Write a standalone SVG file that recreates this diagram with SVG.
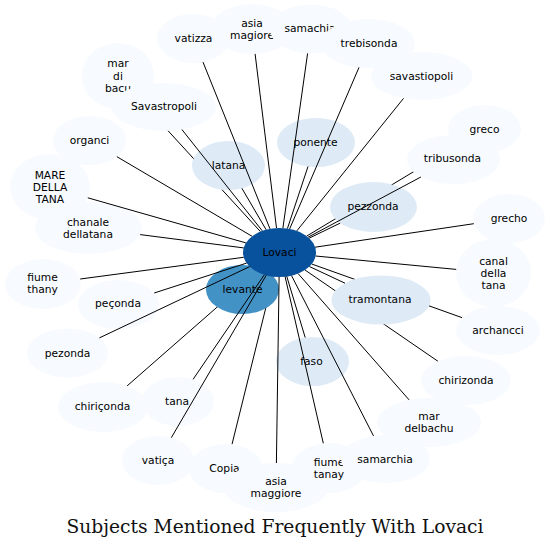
<svg xmlns="http://www.w3.org/2000/svg" width="550" height="548" viewBox="0 0 550 548">
<style>
.e line{stroke:#000;stroke-width:1;fill:none}
.n0{fill:#f7fbff}
.n1{fill:#deebf7}
.n2{fill:#4292c6}
.n3{fill:#08519c}
text{font-family:"DejaVu Sans","Noto Sans",sans-serif;font-size:10.7px;fill:#000;text-anchor:middle}
.title{font-family:"DejaVu Serif","Liberation Serif",serif;font-size:18px;fill:#111}
</style>
<rect width="550" height="548" fill="#fff"/>
<g id="connectors-under" class="e">
<line x1="260.4" y1="231.6" x2="141.1" y2="101.3"/>
<line x1="306.7" y1="236.1" x2="457.6" y2="145.2"/>
<line x1="311.7" y1="264.0" x2="462.2" y2="317.7"/>
<line x1="305.0" y1="270.0" x2="438.0" y2="361.3"/>
<line x1="273.5" y1="276.7" x2="232.0" y2="444.3"/>
<line x1="257.3" y1="271.9" x2="127.1" y2="385.9"/>
</g>
<g id="node-vatizza"><ellipse class="n0" cx="193.5" cy="38.5" rx="36.5" ry="24.5"/><text x="193.5" y="42.3">vatizza</text></g>
<g id="node-asia-magiore"><ellipse class="n0" cx="252" cy="29" rx="41" ry="25"/><text x="252" y="26.8">asia</text><text x="252" y="38.8">magiore</text></g>
<g id="node-samachia"><ellipse class="n0" cx="311" cy="29" rx="41" ry="24.5"/><text x="310" y="32.3">samachia</text></g>
<g id="node-trebisonda"><ellipse class="n0" cx="368" cy="43.5" rx="47" ry="24.5"/><text x="369" y="47.3">trebisonda</text></g>
<g id="node-savastiopoli"><ellipse class="n0" cx="421.5" cy="76" rx="50.5" ry="24"/><text x="421.5" y="79.8">savastiopoli</text></g>
<g id="node-greco"><ellipse class="n0" cx="484.5" cy="129" rx="36.5" ry="24"/><text x="484.5" y="132.8">greco</text></g>
<g id="node-tribusonda"><ellipse class="n0" cx="453.5" cy="159.5" rx="46.5" ry="24.5"/><text x="452.5" y="162.3">tribusonda</text></g>
<g id="node-grecho"><ellipse class="n0" cx="509" cy="218.5" rx="36" ry="24.5"/><text x="509" y="222.3">grecho</text></g>
<g id="node-canal-della-tana"><ellipse class="n0" cx="493.5" cy="273" rx="37.5" ry="34"/><text x="493.5" y="264.8">canal</text><text x="493.5" y="276.8">della</text><text x="493.5" y="288.8">tana</text></g>
<g id="node-archancci"><ellipse class="n0" cx="498" cy="330.5" rx="42" ry="24.5"/><text x="498" y="334.3">archancci</text></g>
<g id="node-chirizonda"><ellipse class="n0" cx="466" cy="380.5" rx="45" ry="24.5"/><text x="466" y="384.3">chirizonda</text></g>
<g id="node-mar-delbachu"><ellipse class="n0" cx="429" cy="422.5" rx="52" ry="24.5"/><text x="429" y="420">mar</text><text x="429" y="431.5">delbachu</text></g>
<g id="node-copia"><ellipse class="n0" cx="226" cy="468.5" rx="37" ry="24.5"/><text x="224.5" y="472.3">Copia</text></g>
<g id="node-asia-maggiore"><ellipse class="n0" cx="276" cy="487.5" rx="52" ry="24.5"/><text x="276" y="484.5">asia</text><text x="276" y="496.5">maggiore</text></g>
<g id="node-fiume-tanay"><ellipse class="n0" cx="329" cy="468" rx="37" ry="25"/><text x="329" y="466.3">fiume</text><text x="329" y="478.3">tanay</text></g>
<g id="node-samarchia"><ellipse class="n0" cx="385.5" cy="459" rx="44.5" ry="24"/><text x="385" y="462.8">samarchia</text></g>
<g id="node-vatica"><ellipse class="n0" cx="158" cy="460.5" rx="36" ry="24.5"/><text x="158" y="464.3">vatiça</text></g>
<g id="node-tana"><ellipse class="n0" cx="178" cy="401.5" rx="36" ry="24.5"/><text x="177" y="404.8">tana</text></g>
<g id="node-chiriconda"><ellipse class="n0" cx="103" cy="407" rx="45" ry="25"/><text x="102.5" y="410.3">chiriçonda</text></g>
<g id="node-pezonda"><ellipse class="n0" cx="67.5" cy="353" rx="40.5" ry="24.5"/><text x="67.5" y="356.5">pezonda</text></g>
<g id="node-peconda"><ellipse class="n0" cx="118.5" cy="304.5" rx="40.5" ry="24.5"/><text x="118" y="307.3">peçonda</text></g>
<g id="node-fiume-thany"><ellipse class="n0" cx="43" cy="284" rx="38" ry="25"/><text x="42.5" y="281">fiume</text><text x="42.5" y="293">thany</text></g>
<g id="node-organci"><ellipse class="n0" cx="89.5" cy="140.5" rx="36.5" ry="24.5"/><text x="89.5" y="144.3">organci</text></g>
<g id="node-mare-della-tana"><ellipse class="n0" cx="50" cy="187" rx="40" ry="33"/><text x="50" y="178.8">MARE</text><text x="50" y="190.8">DELLA</text><text x="50" y="202.8">TANA</text></g>
<g id="node-chanale-dellatana"><ellipse class="n0" cx="88.5" cy="228" rx="53.5" ry="26"/><text x="88" y="225.8">chanale</text><text x="88" y="237.8">dellatana</text></g>
<g id="node-mar-di-bacu"><ellipse class="n0" cx="118" cy="76" rx="36" ry="33"/><text x="118" y="67">mar</text><text x="118" y="79.5">di</text><text x="118" y="92">bacu</text></g>
<g id="node-savastropoli"><ellipse class="n0" cx="164" cy="107" rx="52" ry="24"/><text x="164" y="110.3">Savastropoli</text></g>
<g id="node-latana"><ellipse class="n1" cx="228.5" cy="165.5" rx="36.5" ry="24.5"/><text x="228.5" y="169.3">latana</text></g>
<g id="node-ponente"><ellipse class="n1" cx="316" cy="142.5" rx="39" ry="24.5"/><text x="315.5" y="146.3">ponente</text></g>
<g id="node-pezzonda"><ellipse class="n1" cx="373.5" cy="207" rx="43.5" ry="25"/><text x="373" y="210.3">pezzonda</text></g>
<g id="node-tramontana"><ellipse class="n1" cx="381" cy="300" rx="49.5" ry="24.5"/><text x="380" y="303.3">tramontana</text></g>
<g id="node-faso"><ellipse class="n1" cx="312.5" cy="361.5" rx="36.5" ry="24.5"/><text x="311.5" y="364.8">faso</text></g>
<g id="node-levante"><ellipse class="n2" cx="242.5" cy="289.5" rx="36.5" ry="24.5"/><text x="242.5" y="293.3">levante</text></g>
<g id="node-lovaci"><ellipse class="n3" cx="279.5" cy="252.5" rx="36.5" ry="24.5"/><text x="279.5" y="256.3">Lovaci</text></g>
<g id="connectors" class="e">
<line x1="270.0" y1="228.9" x2="203.0" y2="62.1"/>
<line x1="276.5" y1="228.1" x2="255.1" y2="53.9"/>
<line x1="282.9" y1="228.1" x2="307.6" y2="53.4"/>
<line x1="289.6" y1="229.0" x2="359.0" y2="67.4"/>
<line x1="296.8" y1="230.9" x2="403.5" y2="98.4"/>
<line x1="308.1" y1="237.2" x2="420.9" y2="177.0"/>
<line x1="309.1" y1="238.2" x2="340.2" y2="223.1"/>
<line x1="315.1" y1="247.2" x2="473.8" y2="223.7"/>
<line x1="315.6" y1="256.0" x2="456.2" y2="269.4"/>
<line x1="309.4" y1="266.5" x2="345.0" y2="283.2"/>
<line x1="298.1" y1="273.6" x2="409.1" y2="399.9"/>
<line x1="291.5" y1="275.6" x2="373.5" y2="435.9"/>
<line x1="285.1" y1="276.7" x2="323.3" y2="443.3"/>
<line x1="286.8" y1="276.5" x2="305.2" y2="337.5"/>
<line x1="279.1" y1="277.0" x2="276.4" y2="463.0"/>
<line x1="264.3" y1="274.8" x2="193.1" y2="379.3"/>
<line x1="266.2" y1="275.3" x2="171.3" y2="437.7"/>
<line x1="249.7" y1="266.6" x2="99.4" y2="337.9"/>
<line x1="246.6" y1="263.1" x2="154.2" y2="293.0"/>
<line x1="243.7" y1="257.3" x2="80.2" y2="279.0"/>
<line x1="243.6" y1="247.9" x2="140.2" y2="234.6"/>
<line x1="245.9" y1="242.9" x2="87.8" y2="197.8"/>
<line x1="252.1" y1="236.3" x2="116.9" y2="156.7"/>
<line x1="262.3" y1="230.9" x2="181.9" y2="129.5"/>
<line x1="266.1" y1="229.7" x2="241.9" y2="188.3"/>
<line x1="287.4" y1="228.6" x2="308.0" y2="166.5"/>
</g>
<text class="title" x="275" y="533" textLength="417" lengthAdjust="spacingAndGlyphs">Subjects Mentioned Frequently With Lovaci</text>
</svg>
